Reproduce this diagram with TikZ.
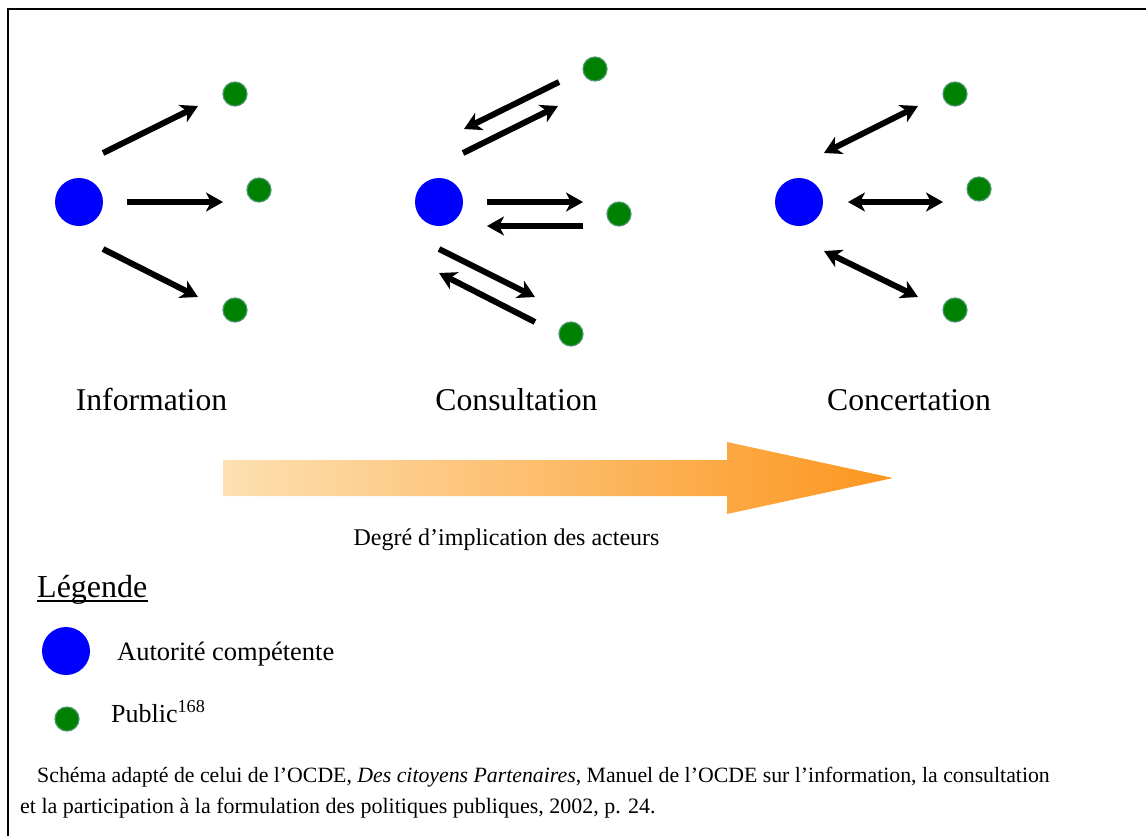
\documentclass[tikz,border=0pt]{standalone}
\usepackage{fontspec}
\setmainfont{Liberation Serif}
\usetikzlibrary{arrows.meta}
\definecolor{authblue}{RGB}{0,0,255}
\definecolor{pubgreen}{RGB}{0,128,0}
\definecolor{pubedge}{RGB}{70,150,105}
\definecolor{peach}{RGB}{253,224,178}
\definecolor{peachmid}{RGB}{252,203,140}
\definecolor{orng}{RGB}{252,150,30}
\begin{document}
\begin{tikzpicture}[x=1pt,y=-1pt,
  auth/.style={circle,fill=authblue,minimum size=48pt,inner sep=0pt},
  pub/.style={circle,fill=pubgreen,draw=pubedge,line width=1.2pt,minimum size=24pt,inner sep=0pt},
  arr/.style={line width=6pt,-{Stealth[length=17pt,width=19pt,inset=5pt]}},
  darr/.style={line width=6pt,{Stealth[length=17pt,width=19pt,inset=5pt]}-{Stealth[length=17pt,width=19pt,inset=5pt]}},
  stage/.style={font=\fontsize{31.7}{38}\selectfont,anchor=base,inner sep=0pt},
  txt/.style={anchor=base west,inner sep=0pt}]
\useasboundingbox (0,0) rectangle (1146,836);
\draw[line width=2pt] (8,836) -- (8,8.5) -- (1146,8.5);

% Information
\node[auth] (a1) at (79,202) {};
\node[pub] (p1t) at (235,94) {};
\node[pub] (p1m) at (259,190) {};
\node[pub] (p1b) at (235,310) {};
\coordinate (i1ts) at (103,153); \coordinate (i1te) at (198,106);
\coordinate (i1ms) at (127,202); \coordinate (i1me) at (223,202);
\coordinate (i1bs) at (103,249); \coordinate (i1be) at (198,297);
\draw[arr] (i1ts) -- (i1te);
\draw[arr] (i1ms) -- (i1me);
\draw[arr] (i1bs) -- (i1be);

% Consultation
\node[auth] (a2) at (439,202) {};
\node[pub] (p2t) at (595,69) {};
\node[pub] (p2m) at (619,214) {};
\node[pub] (p2b) at (571,334) {};
\coordinate (c2ts) at (463,153); \coordinate (c2te) at (558,106);
\coordinate (c2rs) at (559,82);  \coordinate (c2re) at (464,129);
\coordinate (c2ms) at (487,202); \coordinate (c2me) at (583,202);
\coordinate (c2ns) at (583,226); \coordinate (c2ne) at (487,226);
\coordinate (c2bs) at (439,249); \coordinate (c2be) at (535,297);
\coordinate (c2cs) at (535,322); \coordinate (c2ce) at (439,273);
\draw[arr] (c2ts) -- (c2te);
\draw[arr] (c2rs) -- (c2re);
\draw[arr] (c2ms) -- (c2me);
\draw[arr] (c2ns) -- (c2ne);
\draw[arr] (c2bs) -- (c2be);
\draw[arr] (c2cs) -- (c2ce);

% Concertation
\node[auth] (a3) at (799,202) {};
\node[pub] (p3t) at (955,94) {};
\node[pub] (p3m) at (979,189) {};
\node[pub] (p3b) at (955,310) {};
\coordinate (k3ts) at (824,153); \coordinate (k3te) at (918,106);
\coordinate (k3ms) at (848,202); \coordinate (k3me) at (943,202);
\coordinate (k3bs) at (824,251); \coordinate (k3be) at (918,297);
\draw[darr] (k3ts) -- (k3te);
\draw[darr] (k3ms) -- (k3me);
\draw[darr] (k3bs) -- (k3be);

% stage labels
\node[stage] (tinfo) at (151.5,410) {Information};
\node[stage] (tcons) at (516.5,410) {Consultation};
\node[stage] (tconc) at (909,410) {Concertation};

% gradient arrow
\shade[left color=peach, middle color=peachmid, right color=orng]
  (223,460) -- (727,460) -- (727,442) -- (893,478) -- (727,514) -- (727,496) -- (223,496) -- cycle;
\node[font=\fontsize{24}{29}\selectfont,anchor=base,inner sep=0pt] (deg) at (506.5,545) {Degré d’implication des acteurs};

% legend
\node[txt,font=\fontsize{32}{38}\selectfont] (leg) at (37,597) {Légende};
\draw[line width=1.8pt] ([yshift=-4pt]leg.base west) -- ([yshift=-4pt]leg.base east);
\node[auth] (lauth) at (66,651) {};
\node[txt,font=\fontsize{26.5}{32}\selectfont] (lautht) at (117,660) {Autorité compétente};
\node[pub] (lpub) at (67,719) {};
\node[txt,font=\fontsize{26}{32}\selectfont] (lpubt) at (111,722) {Public\textsuperscript{168}};

% caption
\node[txt,font=\fontsize{21.8}{31}\selectfont] (cap1) at (37,782) {Schéma adapté de celui de l’OCDE, \textit{Des citoyens Partenaires}, Manuel de l’OCDE sur l’information, la consultation};
\node[txt,font=\fontsize{22}{31}\selectfont] (cap2) at (20,813) {et la participation à la formulation des politiques publiques, 2002, p. 24.};
\end{tikzpicture}
\end{document}
